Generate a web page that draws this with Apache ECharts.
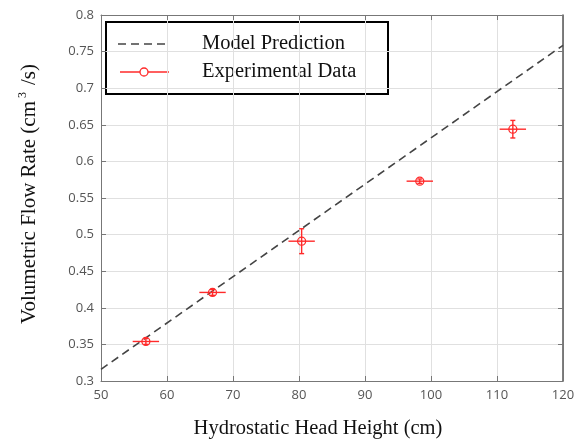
<!DOCTYPE html>
<html><head><meta charset="utf-8">
<script src="https://cdn.jsdelivr.net/npm/echarts@6/dist/echarts.min.js"></script>
<style>html,body{margin:0;padding:0;background:#fff}#c{width:578px;height:441px}</style>
</head><body><div id="c"></div>
<script>
// Data
const headHeight = [56.8, 66.9, 80.4, 98.3, 112.4];       // cm
const flowRate   = [0.354, 0.421, 0.491, 0.573, 0.644];   // cm^3/s
const headErr    = [2.0, 2.0, 2.0, 2.0, 2.0];
const flowErr    = [0.004, 0.004, 0.017, 0.003, 0.012];
const modelX     = [50, 120];
const modelY     = [0.316, 0.7586];
const xTicks = [50,60,70,80,90,100,110,120];
const yTicks = [0.3,0.35,0.4,0.45,0.5,0.55,0.6,0.65,0.7,0.75,0.8];

const expData = headHeight.map((h,i)=>[h, flowRate[i], headErr[i], flowErr[i]]);
const modelData = modelX.map((x,i)=>[x, modelY[i]]);

const red = '#ff2a2a';
const chart = echarts.init(document.getElementById('c'));
const axisCommon = {
  axisLine:{show:true,lineStyle:{color:'#777',width:1}},
  axisTick:{show:true,inside:true,length:5,lineStyle:{color:'#777'}},
  splitLine:{show:false}
};
chart.setOption({
  animation:false,
  grid:{left:101,top:15,right:15,bottom:60,containLabel:false,outerBoundsMode:'none',show:false},
  xAxis:[
    Object.assign({type:'value',min:50,max:120,interval:10,position:'bottom',
      axisLabel:{color:'#555',fontFamily:'Open Sans',fontSize:13,margin:8},
      name:'Hydrostatic Head Height (cm)',nameLocation:'middle',nameGap:37,
      nameTextStyle:{fontFamily:'Liberation Serif',fontSize:20.5,color:'#111',padding:[0,28,0,0]}
    }, axisCommon, {splitLine:{show:true,lineStyle:{color:'#e0e0e0'}}}),
    Object.assign({type:'value',min:50,max:120,interval:10,position:'top',axisLabel:{show:false}}, axisCommon)
  ],
  yAxis:[
    Object.assign({type:'value',min:0.3,max:0.8,interval:0.05,position:'left',
      axisLabel:{color:'#555',fontFamily:'Open Sans',fontSize:13,margin:7,formatter:v=>String(+v.toFixed(2))},
      name:'Volumetric Flow Rate (cm{sup|3}/s)',nameLocation:'middle',nameGap:60,
      nameTextStyle:{fontFamily:'Liberation Serif',fontSize:21,color:'#111',padding:[0,0,0,8],
        rich:{sup:{fontFamily:'Liberation Serif',fontSize:12,verticalAlign:'top',padding:[0,7,12,3],color:'#111'}}}
    }, axisCommon, {splitLine:{show:true,lineStyle:{color:'#e0e0e0'}}}),
    Object.assign({type:'value',min:0.3,max:0.8,interval:0.05,position:'right',axisLabel:{show:false}}, axisCommon, {axisLine:{show:true,lineStyle:{color:'#555',width:1.5}}})
  ],
  series:[
    {type:'line',name:'Model Prediction',data:modelData,symbol:'none',
      lineStyle:{color:'#444',width:1.6,type:[8,5]},z:3},
    {type:'custom',name:'Experimental Data',data:expData,z:4,
      renderItem:function(params,api){
        const x=api.value(0),y=api.value(1),ex=api.value(2),ey=api.value(3);
        const c=api.coord([x,y]);
        const l=api.coord([x-ex,y]),r=api.coord([x+ex,y]);
        const t=api.coord([x,y+ey]),b=api.coord([x,y-ey]);
        const st={stroke:red,lineWidth:1.4,fill:null};
        const cap=2.5;
        return {type:'group',children:[
          {type:'line',shape:{x1:l[0],y1:c[1],x2:r[0],y2:c[1]},style:st},
          {type:'line',shape:{x1:c[0],y1:t[1],x2:c[0],y2:b[1]},style:st},
          {type:'line',shape:{x1:c[0]-cap,y1:t[1],x2:c[0]+cap,y2:t[1]},style:st},
          {type:'line',shape:{x1:c[0]-cap,y1:b[1],x2:c[0]+cap,y2:b[1]},style:st},
          {type:'circle',shape:{cx:c[0],cy:c[1],r:4},style:{stroke:red,lineWidth:1.3,fill:'rgba(255,255,255,0)'}}
        ]};
      }}
  ],
  graphic:[
    {type:'group',left:105,top:21,children:[
      {type:'rect',shape:{x:0,y:0,width:282,height:72},style:{fill:'#fff',stroke:'#000',lineWidth:2}},
      {type:'line',shape:{x1:12,y1:22,x2:62,y2:22},style:{stroke:'#444',lineWidth:1.6,lineDash:[8,5]}},
      {type:'line',shape:{x1:14,y1:50,x2:63,y2:50},style:{stroke:red,lineWidth:1.4}},
      {type:'circle',shape:{cx:38,cy:50,r:4},style:{stroke:red,lineWidth:1.3,fill:'#fff'}},
      {type:'text',x:96,y:22,style:{text:'Model Prediction',font:'20.5px "Liberation Serif"',fill:'#111',verticalAlign:'middle'}},
      {type:'text',x:96,y:50,style:{text:'Experimental Data',font:'20.5px "Liberation Serif"',fill:'#111',verticalAlign:'middle'}}
    ]}
  ]
});
</script></body></html>
